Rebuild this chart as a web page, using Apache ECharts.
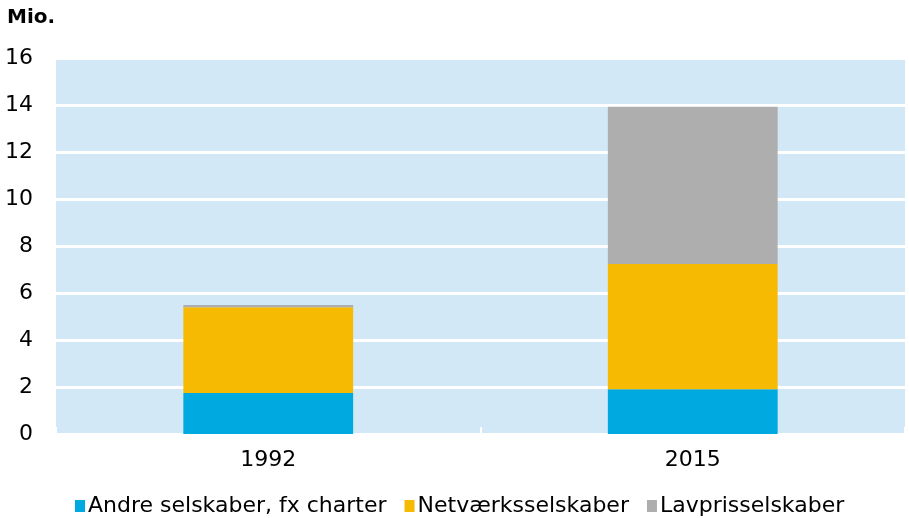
<!DOCTYPE html>
<html>
<head>
<meta charset="utf-8">
<script src="https://cdn.jsdelivr.net/npm/echarts@6/dist/echarts.min.js"></script>
<style>
  html, body { margin: 0; padding: 0; background: #fff; }
  #container { width: 909px; height: 518px; }
</style>
</head>
<body>
<div id="container"></div>
<script>
var years = ["1992", "2015"];
var andre = [1.75, 1.9];
var netvaerk = [3.64, 5.33];
var lavpris = [0.1, 6.7];
var yTicks = [0, 2, 4, 6, 8, 10, 12, 14, 16];

var font = "DejaVu Sans";
var chart = echarts.init(document.getElementById("container"));

function barSeries(name, data, color) {
  return {
    name: name,
    type: "bar",
    stack: "total",
    data: data,
    barWidth: "40%",
    itemStyle: { color: color },
    emphasis: { disabled: true }
  };
}

var option = {
  animation: false,
  title: {
    text: "Mio.",
    left: 7,
    top: 8,
    padding: 0,
    textStyle: { fontFamily: font, fontWeight: "bold", fontSize: 20, color: "#000" }
  },
  grid: {
    left: 56,
    right: 4,
    top: 58,
    bottom: 84,
    show: true,
    backgroundColor: "#D3E8F6",
    borderWidth: 0
  },
  legend: {
    top: 495,
    left: 75,
    padding: 0,
    itemWidth: 10,
    itemHeight: 12,
    itemGap: 18,
    icon: "rect",
    textStyle: { fontFamily: font, fontSize: 22, color: "#000", padding: [0, 0, 0, -2] },
    data: ["Andre selskaber, fx charter", "Netværksselskaber", "Lavprisselskaber"]
  },
  xAxis: {
    type: "category",
    data: years,
    axisLine: { show: false },
    axisTick: { show: true, inside: true, length: 7, lineStyle: { color: "#fff", width: 2 } },
    axisLabel: { fontFamily: font, fontSize: 22, color: "#000", margin: 15 }
  },
  yAxis: {
    type: "value",
    min: yTicks[0],
    max: yTicks[yTicks.length - 1],
    interval: 2,
    axisLine: { show: false },
    axisTick: { show: false },
    axisLabel: { fontFamily: font, fontSize: 22, color: "#000", margin: 23 },
    splitLine: { lineStyle: { color: "#fff", width: 3 } }
  },
  series: [
    barSeries("Andre selskaber, fx charter", andre, "#00A9E0"),
    barSeries("Netværksselskaber", netvaerk, "#F7BA03"),
    barSeries("Lavprisselskaber", lavpris, "#ADAEAD")
  ]
};
chart.setOption(option);
</script>
</body>
</html>
